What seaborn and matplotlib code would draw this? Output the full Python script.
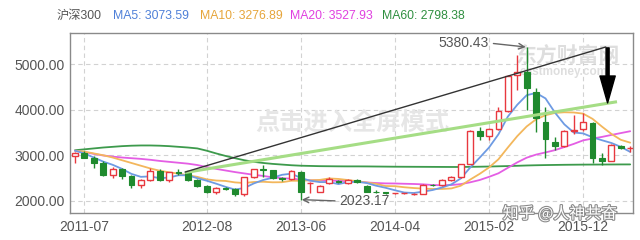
import numpy as np
import pandas as pd
import matplotlib
matplotlib.use("Agg")
import matplotlib.pyplot as plt
import seaborn as sns
from matplotlib import patheffects as pe

# ---- monthly CSI 300 candles (2011-06 .. 2016-05) ----
months = pd.period_range("2011-06", "2016-05", freq="M").strftime("%Y-%m").tolist()

opens = [2990, 3060, 2950, 2840, 2570, 2690, 2540, 2345, 2460, 2660,
         2455, 2625, 2610, 2460, 2330, 2200, 2290, 2255, 2140, 2520,
         2690, 2670, 2495, 2475, 2640, 2380, 2200, 2385, 2430, 2385,
         2445, 2330, 2200, 2185, 2160, 2160, 2145, 2150, 2345, 2340,
         2455, 2515, 2810, 3540, 3420, 3572, 3966, 4765, 4840, 4400,
         3740, 3300, 3200, 3540, 3570, 3700, 2935, 2880, 3210, 3150]
highs = [3070, 3100, 2990, 2870, 2740, 2730, 2560, 2480, 2710, 2690,
         2640, 2690, 2630, 2480, 2350, 2310, 2310, 2280, 2530, 2700,
         2790, 2680, 2530, 2670, 2660, 2405, 2345, 2530, 2460, 2470,
         2470, 2340, 2240, 2195, 2180, 2175, 2165, 2360, 2370, 2470,
         2540, 2810, 3560, 3630, 3600, 4050, 4760, 5200, 5380.43, 4470,
         4070, 3410, 3560, 3880, 3920, 3720, 3040, 3240, 3225, 3200]
lows = [2840, 2940, 2720, 2550, 2510, 2480, 2270, 2270, 2440, 2430,
        2420, 2570, 2440, 2300, 2170, 2150, 2240, 2105, 2110, 2510,
        2530, 2480, 2440, 2460, 2023.17, 2180, 2190, 2370, 2380, 2370,
        2390, 2190, 2160, 2150, 2150, 2150, 2135, 2140, 2320, 2330,
        2440, 2500, 2800, 3340, 3330, 3560, 3950, 4440, 3995, 3520,
        2930, 3115, 3190, 3470, 3540, 2820, 2790, 2870, 3140, 3080]
closes = [3044, 2950, 2830, 2565, 2700, 2540, 2345, 2460, 2660, 2455,
          2625, 2610, 2460, 2330, 2200, 2290, 2255, 2140, 2520, 2690,
          2670, 2495, 2475, 2650, 2200, 2400, 2330, 2470, 2410, 2450,
          2410, 2200, 2190, 2170, 2168, 2165, 2155, 2345, 2338, 2450,
          2520, 2800, 3540, 3420, 3572, 3966, 4749, 4840, 4473, 3816,
          3366, 3203, 3534, 3566, 3731, 2946, 2877, 3218, 3157, 3170]

# ---- moving averages ----
ma5 = [3100, 3040, 2950, 2860, 2790, 2700, 2590, 2525, 2535, 2495,
       2510, 2560, 2560, 2495, 2440, 2375, 2305, 2245, 2280, 2380,
       2455, 2505, 2570, 2595, 2500, 2440, 2410, 2410, 2365, 2410,
       2415, 2390, 2330, 2285, 2230, 2180, 2170, 2200, 2235, 2290,
       2360, 2490, 2730, 2945, 3170, 3460, 3850, 4110, 4320, 4370,
       4250, 3940, 3680, 3500, 3480, 3395, 3330, 3270, 3185, 3073.59]
ma10 = [3100, 3080, 3040, 3000, 2950, 2890, 2830, 2770, 2710, 2660,
        2625, 2595, 2560, 2525, 2470, 2444, 2435, 2403, 2389, 2412,
        2417, 2405, 2407, 2439, 2439, 2450, 2457, 2490, 2479, 2455,
        2429, 2400, 2371, 2323, 2320, 2296, 2279, 2266, 2259, 2259,
        2270, 2330, 2465, 2590, 2731, 2911, 3170, 3420, 3633, 3790,
        3880, 3930, 3945, 3940, 3915, 3800, 3630, 3470, 3340, 3276.89]
ma20 = [3100, 3070, 3030, 2995, 2970, 2950, 2935, 2920, 2900, 2875,
        2855, 2835, 2815, 2785, 2740, 2700, 2665, 2630, 2600, 2570,
        2545, 2515, 2495, 2485, 2465, 2447, 2446, 2446, 2434, 2434,
        2423, 2402, 2389, 2381, 2379, 2373, 2368, 2360, 2345, 2340,
        2345, 2365, 2405, 2455, 2525, 2603, 2724, 2843, 2946, 3014,
        3062, 3112, 3180, 3249, 3327, 3367, 3403, 3446, 3487, 3527.93]
ma60 = [3110, 3130, 3150, 3170, 3185, 3200, 3210, 3215, 3215, 3210,
        3200, 3185, 3170, 3150, 3100, 3040, 2985, 2935, 2890, 2855,
        2830, 2810, 2795, 2780, 2770, 2765, 2760, 2758, 2756, 2755,
        2755, 2754, 2752, 2750, 2748, 2747, 2746, 2745, 2744, 2743,
        2742, 2742, 2745, 2748, 2752, 2757, 2762, 2768, 2775, 2780,
        2784, 2787, 2790, 2792, 2794, 2795, 2796, 2797, 2798, 2798.38]

tick_months = ["2011-07", "2012-08", "2013-06", "2014-04", "2015-02", "2015-12"]
y_ticks = [2000, 3000, 4000, 5000]

# hand-drawn trend lines (month position, index level)
black_line = ([11.7, 56.4], [2630, 5380])
green_line = ([11.7, 57.6], [2620, 4177])

df = pd.DataFrame({"month": months, "open": opens, "high": highs, "low": lows,
                   "close": closes, "MA5": ma5, "MA10": ma10, "MA20": ma20,
                   "MA60": ma60})
df["pos"] = np.arange(len(df))

sns.set_theme(style="white")
plt.rcParams["font.family"] = ["Liberation Sans", "Noto Sans CJK SC", "DejaVu Sans"]

RED = "#e8383f"
GREEN = "#1f8a2e"
C_MA5, C_MA10, C_MA20, C_MA60 = "#6e9be3", "#f3b75c", "#e45ee4", "#3d9a4c"

fig = plt.figure(figsize=(6.4, 2.4), dpi=100)
ax = fig.add_axes([70 / 640, 27 / 240, 563 / 640, 180 / 240])

# moving-average lines
for col, c in [("MA60", C_MA60), ("MA20", C_MA20), ("MA10", C_MA10), ("MA5", C_MA5)]:
    sns.lineplot(data=df, x="pos", y=col, color=c, lw=1.3, ax=ax, zorder=3)

# candles
up = df[df["close"] >= df["open"]]
dn = df[df["close"] < df["open"]]
w = 0.62
ax.vlines(up["pos"], up["low"], up["open"], color=RED, lw=1, zorder=4)
ax.vlines(up["pos"], up["close"], up["high"], color=RED, lw=1, zorder=4)
ax.bar(up["pos"], np.maximum(up["close"] - up["open"], 12), bottom=up["open"],
       width=w, facecolor="white", edgecolor=RED, lw=1, zorder=5)
ax.vlines(dn["pos"], dn["low"], dn["high"], color=GREEN, lw=1, zorder=4)
ax.bar(dn["pos"], np.maximum(dn["open"] - dn["close"], 12), bottom=dn["close"],
       width=w, facecolor=GREEN, edgecolor=GREEN, lw=0.8, zorder=5)

# trend lines and marker arrow
ax.plot(*green_line, color="#a5dd85", lw=2.2, zorder=6, solid_capstyle="butt")
ax.plot(*black_line, color="#333333", lw=1.0, zorder=7)
ax.annotate("", xy=(56.6, 4150), xytext=(56.6, 5360),
            arrowprops=dict(arrowstyle="simple,head_length=0.97,head_width=0.55,tail_width=0.11",
                            color="black", shrinkA=0, shrinkB=0, mutation_scale=20),
            zorder=8)

# high / low labels
hi_idx = int(np.argmax(highs))
lo_idx = int(np.argmin(lows))
ax.annotate(f"{highs[hi_idx]:.2f}", xy=(hi_idx - 0.1, highs[hi_idx]), xytext=(41.3, 5468),
            ha="center", va="center", fontsize=10, color="#555555",
            arrowprops=dict(arrowstyle="->", color="#666666", lw=1,
                            relpos=(1, 0.5), shrinkA=1, shrinkB=0), zorder=8)
ax.annotate(f"{lows[lo_idx]:.2f}", xy=(lo_idx + 0.1, lows[lo_idx]), xytext=(30.8, 1993),
            ha="center", va="center", fontsize=10, color="#555555",
            arrowprops=dict(arrowstyle="->", color="#666666", lw=1,
                            relpos=(0, 0.5), shrinkA=1, shrinkB=0), zorder=8)

# watermarks inside the plot
ax.text(0.501, 0.50, "点击进入全屏模式", transform=ax.transAxes, ha="center", va="center",
        fontsize=17.5, fontweight="bold", color="#e6e6e6", zorder=1,
        family=["Noto Sans CJK SC"])
ax.text(0.885, 0.872, "东方财富网", transform=ax.transAxes, ha="center", va="center",
        fontsize=15, fontweight="bold", color="#dedede", zorder=1,
        family=["Noto Sans CJK SC"])
ax.text(0.877, 0.785, "eastmoney.com", transform=ax.transAxes, ha="center", va="center",
        fontsize=8.5, fontweight="bold", color="#dedede", zorder=1)

# axes styling
ax.set_xlim(-0.53, 59.3)
ax.set_ylim(1730, 5688)
ax.set_yticks(y_ticks)
ax.set_yticklabels([f"{v:.2f}" for v in y_ticks])
ax.set_xticks([months.index(m) for m in tick_months])
ax.set_xticklabels(tick_months)
ax.tick_params(axis="both", length=0, labelsize=10, labelcolor="#555555")
ax.tick_params(axis="y", pad=4)
ax.tick_params(axis="x", pad=5)
ax.set_xlabel("")
ax.set_ylabel("")
ax.grid(True, ls=(0, (4, 3)), color="#d2d2d2", lw=0.8)
ax.set_axisbelow(True)
for s in ax.spines.values():
    s.set_color("#8a8a8a")
    s.set_linewidth(1)

# header legend
fy = 1 - 16 / 240
hs = 8.8
fig.text(57 / 640, fy, "沪深300", color="#555555", fontsize=hs, va="center")
fig.text(113 / 640, fy, f"MA5: {ma5[-1]:.2f}", color="#4f80d8", fontsize=hs, va="center")
fig.text(200 / 640, fy, f"MA10: {ma10[-1]:.2f}", color="#e6a53a", fontsize=hs, va="center")
fig.text(290 / 640, fy, f"MA20: {ma20[-1]:.2f}", color="#e040e0", fontsize=hs, va="center")
fig.text(382 / 640, fy, f"MA60: {ma60[-1]:.2f}", color="#2f8f40", fontsize=hs, va="center")

# site watermark
fig.text(560 / 640, 1 - 214 / 240, "知乎 @人神共奋", ha="center", va="center",
         fontsize=11.5, color="white", family=["Noto Sans CJK SC"],
         path_effects=[pe.withStroke(linewidth=1.6, foreground="#8c8c8c")])

fig.savefig("out.png", dpi=100)
